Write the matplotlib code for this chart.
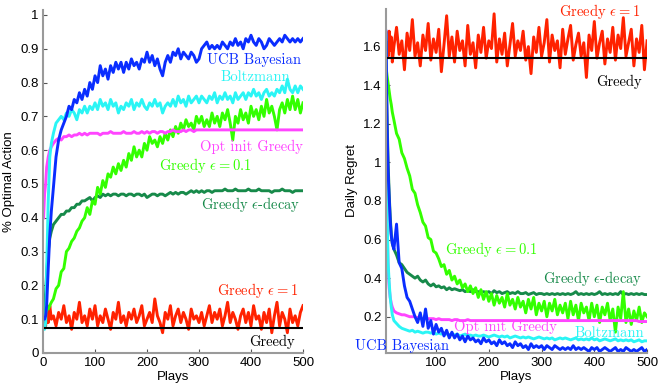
import matplotlib
matplotlib.use("Agg")
import matplotlib.pyplot as plt
from matplotlib.ticker import FuncFormatter

plt.rcParams['font.family'] = ['Liberation Sans', 'DejaVu Sans']
plt.rcParams['mathtext.fontset'] = 'cm'

# ---------------- data: left panel (% optimal action) ----------------
plays_l = [1, 3, 5, 7, 10, 13, 16, 20] + list(range(25, 501, 5))

ucb_l = [0.10, 0.10, 0.11, 0.14, 0.25, 0.35, 0.42, 0.49,
         0.58, 0.63, 0.66, 0.68, 0.70, 0.73, 0.72, 0.75,
         0.74, 0.77, 0.75, 0.78, 0.76, 0.80, 0.78, 0.82,
         0.80, 0.85, 0.82, 0.84, 0.81, 0.85, 0.83, 0.86,
         0.84, 0.86, 0.83, 0.86, 0.84, 0.87, 0.85, 0.86,
         0.84, 0.87, 0.86, 0.89, 0.86, 0.88, 0.85, 0.87,
         0.84, 0.82, 0.86, 0.88, 0.86, 0.89, 0.88, 0.90,
         0.87, 0.89, 0.88, 0.87, 0.89, 0.88, 0.86, 0.87,
         0.90, 0.91, 0.92, 0.90, 0.91, 0.90, 0.91, 0.90,
         0.92, 0.91, 0.90, 0.92, 0.91, 0.93, 0.91, 0.92,
         0.90, 0.93, 0.92, 0.94, 0.92, 0.91, 0.93, 0.92,
         0.90, 0.91, 0.93, 0.92, 0.91, 0.92, 0.93, 0.92,
         0.94, 0.93, 0.92, 0.93, 0.92, 0.93, 0.92, 0.93]

boltz_l = [0.07, 0.07, 0.09, 0.25, 0.45, 0.58, 0.62, 0.65,
           0.68, 0.69, 0.70, 0.69, 0.71, 0.70, 0.72, 0.71,
           0.69, 0.72, 0.71, 0.73, 0.71, 0.73, 0.72, 0.74,
           0.72, 0.75, 0.73, 0.74, 0.72, 0.75, 0.73, 0.74,
           0.71, 0.73, 0.72, 0.74, 0.73, 0.75, 0.72, 0.74,
           0.73, 0.75, 0.73, 0.72, 0.74, 0.73, 0.75, 0.73,
           0.74, 0.71, 0.73, 0.74, 0.73, 0.75, 0.73, 0.76,
           0.74, 0.75, 0.73, 0.76, 0.74, 0.75, 0.76, 0.74,
           0.76, 0.75, 0.74, 0.76, 0.75, 0.77, 0.74, 0.76,
           0.75, 0.77, 0.75, 0.76, 0.74, 0.77, 0.75, 0.76,
           0.77, 0.75, 0.77, 0.76, 0.78, 0.76, 0.77, 0.75,
           0.77, 0.78, 0.76, 0.77, 0.76, 0.78, 0.77, 0.79,
           0.77, 0.81, 0.78, 0.77, 0.79, 0.77, 0.79, 0.78]

optinit_l = [0.40, 0.47, 0.50, 0.55, 0.58, 0.60, 0.61, 0.62,
             0.63, 0.635, 0.63, 0.64, 0.64, 0.645, 0.64, 0.645,
             0.645, 0.65, 0.645, 0.65, 0.645, 0.65, 0.65, 0.65,
             0.65, 0.645, 0.65, 0.65, 0.65, 0.655, 0.65, 0.65,
             0.65, 0.65, 0.655, 0.65, 0.65, 0.65, 0.655, 0.65,
             0.65, 0.655, 0.65, 0.655, 0.65, 0.655, 0.655, 0.65,
             0.655, 0.655, 0.65, 0.655, 0.655, 0.66, 0.655, 0.655,
             0.655, 0.66, 0.655, 0.66, 0.66, 0.655, 0.66, 0.66,
             0.66, 0.66, 0.66, 0.66, 0.66, 0.66, 0.66, 0.66,
             0.66, 0.66, 0.66, 0.66, 0.66, 0.66, 0.66, 0.66,
             0.66, 0.66, 0.66, 0.66, 0.66, 0.66, 0.66, 0.66,
             0.66, 0.66, 0.66, 0.66, 0.66, 0.66, 0.66, 0.66,
             0.66, 0.66, 0.66, 0.66, 0.66, 0.66, 0.66, 0.66]

decay_l = [0.10, 0.13, 0.18, 0.24, 0.30, 0.34, 0.36, 0.38,
           0.39, 0.40, 0.41, 0.41, 0.42, 0.42, 0.43, 0.43,
           0.44, 0.44, 0.45, 0.45, 0.455, 0.46, 0.45, 0.46,
           0.465, 0.46, 0.47, 0.465, 0.47, 0.465, 0.47, 0.47,
           0.465, 0.47, 0.47, 0.465, 0.47, 0.47, 0.465, 0.47,
           0.47, 0.465, 0.47, 0.46, 0.465, 0.47, 0.47, 0.465,
           0.47, 0.47, 0.465, 0.47, 0.475, 0.47, 0.475, 0.47,
           0.475, 0.475, 0.47, 0.475, 0.48, 0.475, 0.48, 0.475,
           0.48, 0.475, 0.48, 0.48, 0.475, 0.48, 0.48, 0.48,
           0.48, 0.485, 0.48, 0.48, 0.48, 0.485, 0.48, 0.48,
           0.48, 0.48, 0.485, 0.48, 0.48, 0.48, 0.485, 0.48,
           0.48, 0.48, 0.48, 0.475, 0.48, 0.48, 0.48, 0.485,
           0.48, 0.48, 0.48, 0.475, 0.48, 0.48, 0.48, 0.48]

eps01_l = [0.10, 0.11, 0.12, 0.13, 0.13, 0.14, 0.15, 0.16,
           0.19, 0.20, 0.24, 0.25, 0.30, 0.31, 0.33, 0.34,
           0.36, 0.37, 0.39, 0.40, 0.43, 0.41, 0.45, 0.44,
           0.49, 0.47, 0.51, 0.49, 0.53, 0.52, 0.55, 0.53,
           0.56, 0.54, 0.57, 0.55, 0.59, 0.57, 0.61, 0.58,
           0.60, 0.58, 0.62, 0.60, 0.64, 0.62, 0.63, 0.61,
           0.64, 0.62, 0.65, 0.63, 0.66, 0.64, 0.67, 0.65,
           0.68, 0.66, 0.69, 0.67, 0.68, 0.66, 0.70, 0.68,
           0.70, 0.67, 0.69, 0.67, 0.71, 0.68, 0.70, 0.67,
           0.71, 0.69, 0.72, 0.68, 0.63, 0.70, 0.68, 0.72,
           0.69, 0.71, 0.68, 0.73, 0.70, 0.72, 0.69, 0.73,
           0.70, 0.75, 0.71, 0.73, 0.70, 0.66, 0.72, 0.74,
           0.71, 0.75, 0.72, 0.76, 0.72, 0.75, 0.71, 0.74]

eps1_l = [0.10, 0.13, 0.08, 0.12, 0.09, 0.14, 0.10, 0.11,
          0.08, 0.12, 0.10, 0.14, 0.09, 0.11, 0.07, 0.12,
          0.10, 0.15, 0.09, 0.11, 0.08, 0.13, 0.10, 0.14,
          0.08, 0.11, 0.09, 0.13, 0.10, 0.07, 0.12, 0.10,
          0.15, 0.09, 0.11, 0.08, 0.12, 0.10, 0.13, 0.09,
          0.11, 0.14, 0.08, 0.10, 0.12, 0.09, 0.16, 0.11,
          0.09, 0.06, 0.12, 0.10, 0.14, 0.08, 0.11, 0.13,
          0.09, 0.12, 0.10, 0.07, 0.13, 0.10, 0.11, 0.09,
          0.12, 0.08, 0.11, 0.14, 0.09, 0.12, 0.10, 0.13,
          0.08, 0.11, 0.15, 0.09, 0.12, 0.10, 0.07, 0.11,
          0.13, 0.09, 0.12, 0.08, 0.14, 0.10, 0.11, 0.07,
          0.12, 0.09, 0.13, 0.06, 0.11, 0.15, 0.08, 0.12,
          0.10, 0.06, 0.13, 0.09, 0.11, 0.08, 0.12, 0.14]

greedy_x_l = [1, 500]
greedy_l = [0.075, 0.075]

# ---------------- data: right panel (daily regret) ----------------
plays_r = [5, 7, 9, 11, 13, 15, 17, 20] + list(range(25, 501, 5))

ucb_r = [1.68, 1.20, 0.95, 0.82, 0.70, 0.62, 0.58, 0.55,
         0.68, 0.48, 0.45, 0.36, 0.30, 0.28, 0.24, 0.20,
         0.17, 0.22, 0.15, 0.24, 0.14, 0.18, 0.11, 0.16,
         0.12, 0.14, 0.10, 0.13, 0.09, 0.12, 0.09, 0.11,
         0.08, 0.10, 0.07, 0.10, 0.08, 0.09, 0.07, 0.08,
         0.06, 0.09, 0.07, 0.08, 0.06, 0.07, 0.05, 0.08,
         0.06, 0.07, 0.05, 0.06, 0.04, 0.07, 0.05, 0.06,
         0.04, 0.05, 0.03, 0.06, 0.04, 0.05, 0.04, 0.05,
         0.03, 0.05, 0.04, 0.03, 0.05, 0.04, 0.03, 0.04,
         0.03, 0.04, 0.03, 0.05, 0.03, 0.04, 0.03, 0.04,
         0.03, 0.02, 0.04, 0.03, 0.04, 0.02, 0.03, 0.04,
         0.03, 0.02, 0.03, 0.04, 0.02, 0.03, 0.02, 0.04,
         0.03, 0.02, 0.03, 0.02, 0.03, 0.04, 0.02, 0.03]

boltz_r = [1.66, 0.75, 0.48, 0.38, 0.30, 0.25, 0.21, 0.18,
           0.165, 0.15, 0.14, 0.135, 0.13, 0.125, 0.13, 0.12,
           0.125, 0.12, 0.115, 0.12, 0.12, 0.115, 0.12, 0.11,
           0.115, 0.11, 0.115, 0.11, 0.105, 0.11, 0.105, 0.11,
           0.10, 0.105, 0.11, 0.10, 0.105, 0.10, 0.105, 0.10,
           0.10, 0.105, 0.10, 0.095, 0.10, 0.105, 0.10, 0.095,
           0.10, 0.095, 0.10, 0.09, 0.095, 0.10, 0.095, 0.09,
           0.095, 0.09, 0.095, 0.09, 0.085, 0.09, 0.095, 0.09,
           0.085, 0.09, 0.085, 0.09, 0.08, 0.085, 0.09, 0.085,
           0.09, 0.085, 0.08, 0.085, 0.09, 0.08, 0.085, 0.08,
           0.085, 0.08, 0.09, 0.08, 0.085, 0.075, 0.08, 0.085,
           0.08, 0.075, 0.08, 0.085, 0.075, 0.08, 0.075, 0.08,
           0.075, 0.08, 0.07, 0.075, 0.08, 0.07, 0.075, 0.075]

optinit_r = [1.55, 0.70, 0.45, 0.35, 0.30, 0.27, 0.25, 0.23,
             0.22, 0.215, 0.21, 0.21, 0.205, 0.20, 0.20, 0.20,
             0.195, 0.195, 0.19, 0.19, 0.19, 0.19, 0.19, 0.185,
             0.19, 0.185, 0.185, 0.185, 0.185, 0.18, 0.185, 0.185,
             0.18, 0.18, 0.18, 0.185, 0.18, 0.18, 0.18, 0.18,
             0.18, 0.18, 0.18, 0.18, 0.18, 0.18, 0.18, 0.18,
             0.18, 0.18, 0.18, 0.18, 0.18, 0.18, 0.18, 0.18,
             0.18, 0.18, 0.18, 0.18, 0.18, 0.18, 0.18, 0.18,
             0.18, 0.18, 0.18, 0.18, 0.18, 0.18, 0.18, 0.18,
             0.18, 0.18, 0.18, 0.18, 0.18, 0.18, 0.18, 0.18,
             0.18, 0.18, 0.18, 0.18, 0.18, 0.18, 0.18, 0.18,
             0.18, 0.18, 0.18, 0.18, 0.18, 0.18, 0.18, 0.18,
             0.18, 0.18, 0.18, 0.18, 0.175, 0.175, 0.175, 0.175]

decay_r = [1.50, 1.25, 1.00, 0.84, 0.72, 0.63, 0.58, 0.55,
           0.52, 0.48, 0.47, 0.45, 0.43, 0.42, 0.41, 0.40,
           0.41, 0.39, 0.38, 0.39, 0.37, 0.36, 0.37, 0.355,
           0.36, 0.35, 0.355, 0.34, 0.35, 0.34, 0.345, 0.34,
           0.335, 0.34, 0.33, 0.335, 0.33, 0.34, 0.33, 0.33,
           0.325, 0.33, 0.325, 0.33, 0.32, 0.335, 0.325, 0.33,
           0.32, 0.325, 0.33, 0.32, 0.325, 0.32, 0.33, 0.32,
           0.32, 0.325, 0.315, 0.32, 0.325, 0.315, 0.32, 0.32,
           0.315, 0.32, 0.315, 0.32, 0.315, 0.32, 0.315, 0.32,
           0.315, 0.32, 0.315, 0.32, 0.33, 0.315, 0.32, 0.315,
           0.32, 0.315, 0.32, 0.315, 0.32, 0.33, 0.315, 0.32,
           0.315, 0.32, 0.315, 0.32, 0.315, 0.33, 0.315, 0.32,
           0.315, 0.32, 0.315, 0.32, 0.315, 0.32, 0.315, 0.315]

eps01_r = [1.50, 1.45, 1.41, 1.37, 1.33, 1.30, 1.26, 1.22,
           1.15, 1.12, 1.05, 1.02, 0.97, 0.93, 0.86, 0.84,
           0.78, 0.74, 0.69, 0.67, 0.61, 0.60, 0.54, 0.53,
           0.50, 0.46, 0.47, 0.42, 0.44, 0.39, 0.41, 0.37,
           0.39, 0.35, 0.37, 0.33, 0.36, 0.32, 0.35, 0.30,
           0.34, 0.29, 0.33, 0.28, 0.32, 0.26, 0.31, 0.27,
           0.30, 0.25, 0.32, 0.26, 0.29, 0.24, 0.30, 0.25,
           0.28, 0.22, 0.29, 0.24, 0.30, 0.21, 0.27, 0.23,
           0.28, 0.20, 0.27, 0.23, 0.29, 0.21, 0.26, 0.22,
           0.27, 0.19, 0.28, 0.21, 0.26, 0.18, 0.27, 0.22,
           0.25, 0.18, 0.27, 0.20, 0.26, 0.17, 0.25, 0.21,
           0.27, 0.18, 0.24, 0.12, 0.25, 0.19, 0.33, 0.17,
           0.24, 0.16, 0.23, 0.18, 0.25, 0.17, 0.22, 0.20]

eps1_r = [1.50, 1.62, 1.55, 1.68, 1.58, 1.65, 1.52, 1.60,
          1.70, 1.56, 1.63, 1.48, 1.67, 1.58, 1.74, 1.55,
          1.62, 1.50, 1.66, 1.58, 1.72, 1.53, 1.64, 1.57,
          1.69, 1.47, 1.61, 1.76, 1.55, 1.65, 1.52, 1.68,
          1.58, 1.63, 1.50, 1.71, 1.56, 1.62, 1.49, 1.66,
          1.57, 1.70, 1.54, 1.63, 1.59, 1.77, 1.52, 1.64,
          1.56, 1.67, 1.50, 1.61, 1.72, 1.55, 1.63, 1.58,
          1.68, 1.53, 1.60, 1.46, 1.65, 1.57, 1.70, 1.55,
          1.62, 1.74, 1.52, 1.66, 1.58, 1.63, 1.49, 1.69,
          1.56, 1.64, 1.71, 1.53, 1.61, 1.67, 1.55, 1.62,
          1.44, 1.66, 1.58, 1.73, 1.54, 1.62, 1.68, 1.51,
          1.64, 1.57, 1.70, 1.53, 1.66, 1.59, 1.75, 1.55,
          1.62, 1.69, 1.50, 1.64, 1.57, 1.71, 1.48, 1.63]

greedy_x_r = [5, 500]
greedy_r = [1.54, 1.54]

# ---------------- style ----------------
C_UCB = '#0a2dff'
C_BOLTZ = '#2af5f5'
C_OPT = '#ff45ff'
C_EPS01 = '#33ff00'
C_DECAY = '#178a4a'
C_EPS1 = '#ff2200'
C_GREEDY = '#000000'
LW = 2.1
SPINE = '#9a9a9a'
LBL_FS = 10.5
LBL_FAM = ['cmr10', 'DejaVu Serif']
TICK_FS = 9.5
AX_FS = 9.5

fig = plt.figure(figsize=(6.64, 3.91), dpi=100)
axL = fig.add_axes([0.0648, 0.0972, 0.3915, 0.8775])
axR = fig.add_axes([0.5813, 0.0972, 0.3932, 0.8798])


def style(ax):
    for s in ['top', 'right']:
        ax.spines[s].set_visible(False)
    for s in ['left', 'bottom']:
        ax.spines[s].set_color(SPINE)
        ax.spines[s].set_linewidth(1.5)
    ax.tick_params(direction='in', length=3, width=0.8, color='#555555',
                   labelsize=TICK_FS, pad=3)
    ax.yaxis.set_major_formatter(FuncFormatter(lambda v, p: '%g' % round(v, 2)))


def lbl(ax, x, y, s, c, ha):
    ax.text(x, y, s, color=c, fontsize=LBL_FS, family=LBL_FAM, ha=ha, va='center')


# left panel
axL.plot(plays_l, eps1_l, color=C_EPS1, lw=LW)
axL.plot(plays_l, decay_l, color=C_DECAY, lw=LW)
axL.plot(plays_l, eps01_l, color=C_EPS01, lw=LW)
axL.plot(plays_l, optinit_l, color=C_OPT, lw=LW)
axL.plot(plays_l, boltz_l, color=C_BOLTZ, lw=LW)
axL.plot(plays_l, ucb_l, color=C_UCB, lw=LW)
axL.plot(greedy_x_l, greedy_l, color=C_GREEDY, lw=1.5)
axL.set_xlim(0, 500)
axL.set_ylim(0, 1.015)
axL.set_xticks([0, 100, 200, 300, 400, 500])
axL.set_yticks([0, 0.1, 0.2, 0.3, 0.4, 0.5, 0.6, 0.7, 0.8, 0.9, 1.0])
style(axL)
axL.set_xlabel('Plays', fontsize=AX_FS, labelpad=1)
axL.set_ylabel('% Optimal Action', fontsize=AX_FS, labelpad=4)

lbl(axL, 497, 0.867, 'UCB Bayesian', C_UCB, 'right')
lbl(axL, 408, 0.817, 'Boltzmann', C_BOLTZ, 'center')
lbl(axL, 500, 0.61, 'Opt init Greedy', C_OPT, 'right')
lbl(axL, 312, 0.556, r'Greedy $\epsilon = 0.1$', C_EPS01, 'center')
lbl(axL, 494, 0.438, r'Greedy $\epsilon$-decay', C_DECAY, 'right')
lbl(axL, 490, 0.186, r'Greedy $\epsilon = 1$', C_EPS1, 'right')
lbl(axL, 485, 0.033, 'Greedy', C_GREEDY, 'right')

# right panel
axR.plot(plays_r, eps1_r, color=C_EPS1, lw=LW)
axR.plot(plays_r, decay_r, color=C_DECAY, lw=LW)
axR.plot(plays_r, eps01_r, color=C_EPS01, lw=LW)
axR.plot(plays_r, optinit_r, color=C_OPT, lw=LW)
axR.plot(plays_r, boltz_r, color=C_BOLTZ, lw=LW)
axR.plot(plays_r, ucb_r, color=C_UCB, lw=LW)
axR.plot(greedy_x_r, greedy_r, color=C_GREEDY, lw=1.5)
axR.set_xlim(5, 500)
axR.set_ylim(0.012, 1.795)
axR.set_xticks([100, 200, 300, 400, 500])
axR.set_yticks([0.2, 0.4, 0.6, 0.8, 1.0, 1.2, 1.4, 1.6])
style(axR)
axR.set_xlabel('Plays', fontsize=AX_FS, labelpad=1)
axR.set_ylabel('Daily Regret', fontsize=AX_FS, labelpad=4)

lbl(axR, 486, 1.78, r'Greedy $\epsilon = 1$', C_EPS1, 'right')
lbl(axR, 490, 1.417, 'Greedy', C_GREEDY, 'right')
lbl(axR, 117, 0.551, r'Greedy $\epsilon = 0.1$', C_EPS01, 'left')
lbl(axR, 490, 0.40, r'Greedy $\epsilon$-decay', C_DECAY, 'right')
lbl(axR, 134, 0.147, 'Opt init Greedy', C_OPT, 'left')
lbl(axR, 495, 0.115, 'Boltzmann', C_BOLTZ, 'right')
lbl(axR, -54, 0.048, 'UCB Bayesian', C_UCB, 'left')

fig.savefig('out.png', dpi=100)
